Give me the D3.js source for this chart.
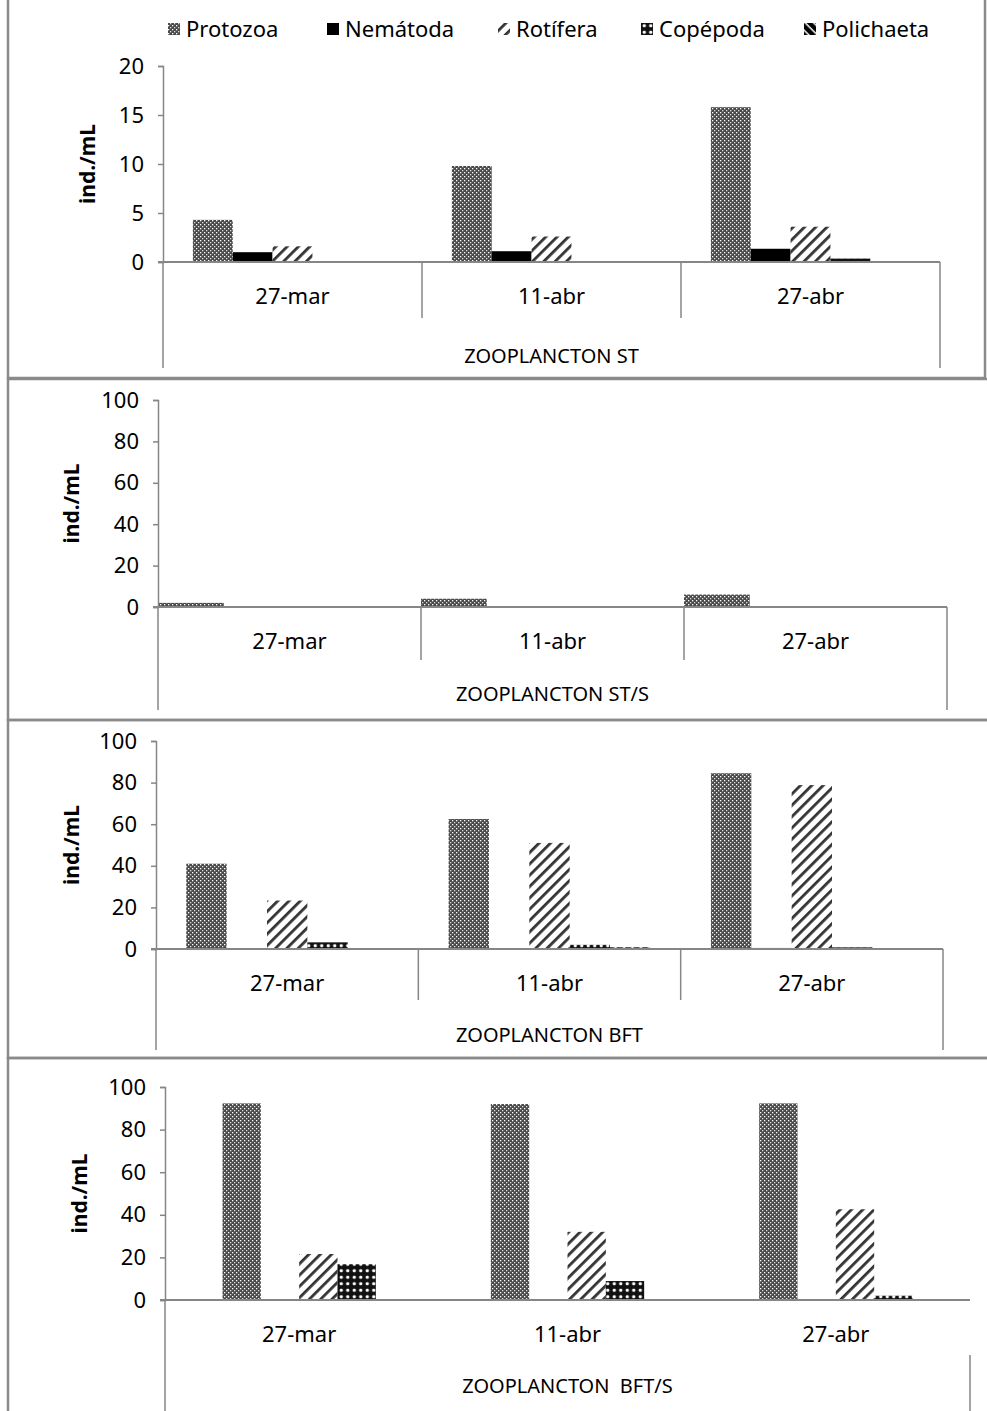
<!DOCTYPE html>
<html lang="es">
<head>
<meta charset="UTF-8">
<title>Zooplancton</title>
<script src="https://d3js.org/d3.v7.min.js"></script>
<style>
  body { margin: 0; background: #fff; overflow: hidden; }
  text { font-family: 'Noto Sans', 'Open Sans', sans-serif; font-size: 22px; fill: #000; }
  .ytitle { font-weight: bold; font-size: 21px; }
  .ptitle { font-size: 20px; }
</style>
</head>
<body>
<script>
  // categorias y series
  const categories = ["27-mar", "11-abr", "27-abr"];
  const seriesNames = ["Protozoa", "Nemátoda", "Rotífera", "Copépoda", "Polichaeta"];

  // ZOOPLANCTON ST
  const stProtozoa   = [4.3, 9.8, 15.8];
  const stNematoda   = [1.0, 1.1, 1.35];
  const stRotifera   = [1.6, 2.6, 3.6];
  const stCopepoda   = [0, 0, 0.35];
  const stPolichaeta = [0, 0, 0];
  const stTicks = [0, 5, 10, 15, 20];

  // ZOOPLANCTON ST/S
  const stsProtozoa = [2, 4, 6];
  const stsNematoda = [0, 0, 0];
  const stsRotifera = [0.3, 0.3, 0.3];
  const stsCopepoda = [0, 0, 0];

  // ZOOPLANCTON BFT
  const bftProtozoa   = [41, 62.5, 84.5];
  const bftNematoda   = [0, 0, 0.5];
  const bftRotifera   = [23.3, 51, 78.8];
  const bftCopepoda   = [3.2, 2, 0.8];
  const bftPolichaeta = [0, 0.8, 0];

  // ZOOPLANCTON BFT/S
  const bftsProtozoa = [92.3, 92, 92.3];
  const bftsNematoda = [0.3, 0.3, 0.3];
  const bftsRotifera = [21.6, 32, 42.6];
  const bftsCopepoda = [16.8, 8.9, 2];

  const pctTicks = [0, 20, 40, 60, 80, 100];

  const W = 987, H = 1411;
  const axisColor = "#868686";

  const svg = d3.select("body").append("svg")
      .attr("width", W)
      .attr("height", H);

  // patrones de relleno
  const defs = svg.append("defs");

  const pProto = defs.append("pattern").attr("id", "p0")
      .attr("width", 4).attr("height", 4).attr("patternUnits", "userSpaceOnUse");
  pProto.append("rect").attr("width", 4).attr("height", 4).attr("fill", "#4a4a4a");
  pProto.append("rect").attr("x", 0).attr("y", 0).attr("width", 1.3).attr("height", 1.3).attr("fill", "#fff");
  pProto.append("rect").attr("x", 2).attr("y", 2).attr("width", 1.3).attr("height", 1.3).attr("fill", "#ddd");

  const pNema = defs.append("pattern").attr("id", "p1")
      .attr("width", 4).attr("height", 4).attr("patternUnits", "userSpaceOnUse");
  pNema.append("rect").attr("width", 4).attr("height", 4).attr("fill", "#000");

  const pRoti = defs.append("pattern").attr("id", "p2")
      .attr("width", 8).attr("height", 8).attr("patternUnits", "userSpaceOnUse")
      .attr("patternTransform", "rotate(45)");
  pRoti.append("rect").attr("width", 8).attr("height", 8).attr("fill", "#fff");
  pRoti.append("rect").attr("width", 2.8).attr("height", 8).attr("fill", "#333");

  const pCope = defs.append("pattern").attr("id", "p3")
      .attr("width", 6.5).attr("height", 6.5).attr("patternUnits", "userSpaceOnUse");
  pCope.append("rect").attr("width", 6.5).attr("height", 6.5).attr("fill", "#111");
  pCope.append("circle").attr("cx", 3.25).attr("cy", 3.25).attr("r", 1.7).attr("fill", "#fff");

  const pPoli = defs.append("pattern").attr("id", "p4")
      .attr("width", 6).attr("height", 6).attr("patternUnits", "userSpaceOnUse")
      .attr("patternTransform", "rotate(-45)");
  pPoli.append("rect").attr("width", 6).attr("height", 6).attr("fill", "#fff");
  pPoli.append("rect").attr("width", 4.5).attr("height", 6).attr("fill", "#000");

  const fills = seriesNames.map((s, i) => `url(#p${i})`);

  const panels = [
    { title: "ZOOPLANCTON ST", values: [stProtozoa, stNematoda, stRotifera, stCopepoda, stPolichaeta],
      ticks: stTicks, box: [8, -2, 977, 380], x0: 163, x1: 940, yTop: 66, yZero: 262,
      pad: 0.75, lvl1: 56, lvl2: 106, titleY: 356, titleX: 88, dividers: true, rightOuter: 0 },
    { title: "ZOOPLANCTON ST/S", values: [stsProtozoa, stsNematoda, stsRotifera, stsCopepoda],
      ticks: pctTicks, box: [8, 379, 1000, 341], x0: 158, x1: 947, yTop: 400, yZero: 607,
      pad: 0, lvl1: 53, lvl2: 103, titleY: 694, titleX: 72, dividers: true, rightOuter: 0 },
    { title: "ZOOPLANCTON BFT", values: [bftProtozoa, bftNematoda, bftRotifera, bftCopepoda, bftPolichaeta],
      ticks: pctTicks, box: [8, 720, 1000, 338], x0: 156, x1: 943, yTop: 741, yZero: 949,
      pad: 0.75, lvl1: 51, lvl2: 101, titleY: 1035, titleX: 72, dividers: true, rightOuter: 0 },
    { title: "ZOOPLANCTON  BFT/S", values: [bftsProtozoa, bftsNematoda, bftsRotifera, bftsCopepoda],
      ticks: pctTicks, box: [8, 1058, 1000, 360], x0: 165, x1: 970, yTop: 1087, yZero: 1300,
      pad: 1.5, lvl1: 55, lvl2: 115, titleY: 1386, titleX: 80, dividers: false, rightOuter: 55 }
  ];

  panels.forEach(p => {
    const g = svg.append("g");

    g.append("rect")
      .attr("x", p.box[0]).attr("y", p.box[1])
      .attr("width", p.box[2]).attr("height", p.box[3])
      .attr("fill", "none").attr("stroke", "#8a8a8a").attr("stroke-width", 2.5);

    const x = d3.scaleBand().domain(categories).range([p.x0, p.x1]);
    const inner = d3.scaleBand()
      .domain(d3.range(p.values.length))
      .range([0, x.bandwidth()])
      .paddingInner(0).paddingOuter(p.pad);
    const y = d3.scaleLinear().domain([0, d3.max(p.ticks)]).range([p.yZero, p.yTop]);

    // barras
    p.values.forEach((vals, si) => {
      g.append("g").selectAll("rect")
        .data(vals)
        .join("rect")
          .attr("x", (d, i) => x(categories[i]) + inner(si))
          .attr("y", d => y(d))
          .attr("width", inner.bandwidth())
          .attr("height", d => y(0) - y(d))
          .attr("fill", fills[si]);
    });

    // eje Y
    const yAxis = g.append("g")
      .attr("transform", `translate(${p.x0},0)`)
      .call(d3.axisLeft(y).tickValues(p.ticks).tickSize(5).tickPadding(14));
    yAxis.select(".domain").attr("stroke", axisColor).attr("stroke-width", 1.5);
    yAxis.selectAll(".tick line").attr("stroke", axisColor).attr("stroke-width", 1.5);
    yAxis.selectAll(".tick text").style("font-size", "22px").style("font-family", "'Noto Sans', sans-serif");

    g.append("text")
      .attr("class", "ytitle")
      .attr("transform", `translate(${p.titleX},${(p.yTop + p.yZero) / 2}) rotate(-90)`)
      .attr("text-anchor", "middle")
      .attr("dy", "0.35em")
      .text("ind./mL");

    // eje X de dos niveles
    g.append("line")
      .attr("x1", p.x0 - 5).attr("x2", p.x1)
      .attr("y1", p.yZero).attr("y2", p.yZero)
      .attr("stroke", axisColor).attr("stroke-width", 2);

    if (p.dividers) {
      categories.slice(1).forEach(c => {
        g.append("line")
          .attr("x1", x(c)).attr("x2", x(c))
          .attr("y1", p.yZero).attr("y2", p.yZero + p.lvl1)
          .attr("stroke", axisColor).attr("stroke-width", 1.5);
      });
    }
    g.append("line")
      .attr("x1", p.x0).attr("x2", p.x0)
      .attr("y1", p.yZero).attr("y2", p.yZero + p.lvl2)
      .attr("stroke", axisColor).attr("stroke-width", 1.5);
    g.append("line")
      .attr("x1", p.x1).attr("x2", p.x1)
      .attr("y1", p.yZero + p.rightOuter).attr("y2", p.yZero + p.lvl2)
      .attr("stroke", axisColor).attr("stroke-width", 1.5);

    g.append("g").selectAll("text")
      .data(categories)
      .join("text")
        .attr("x", d => x(d) + x.bandwidth() / 2)
        .attr("y", p.yZero + 34)
        .attr("dy", "0.35em")
        .attr("text-anchor", "middle")
        .text(d => d);

    g.append("text")
      .attr("class", "ptitle")
      .attr("x", (p.x0 + p.x1) / 2)
      .attr("y", p.titleY)
      .attr("dy", "0.35em")
      .attr("text-anchor", "middle")
      .style("white-space", "pre")
      .text(p.title);
  });

  // leyenda
  const legendX = [168, 327, 498, 641, 804];
  const legend = svg.append("g").selectAll("g")
    .data(seriesNames)
    .join("g")
      .attr("transform", (d, i) => `translate(${legendX[i]},29)`);
  legend.append("rect")
    .attr("x", 0).attr("y", -6).attr("width", 12).attr("height", 12)
    .attr("fill", (d, i) => fills[i]);
  legend.append("text")
    .attr("x", 18).attr("dy", "0.35em")
    .text(d => d);
</script>
</body>
</html>
